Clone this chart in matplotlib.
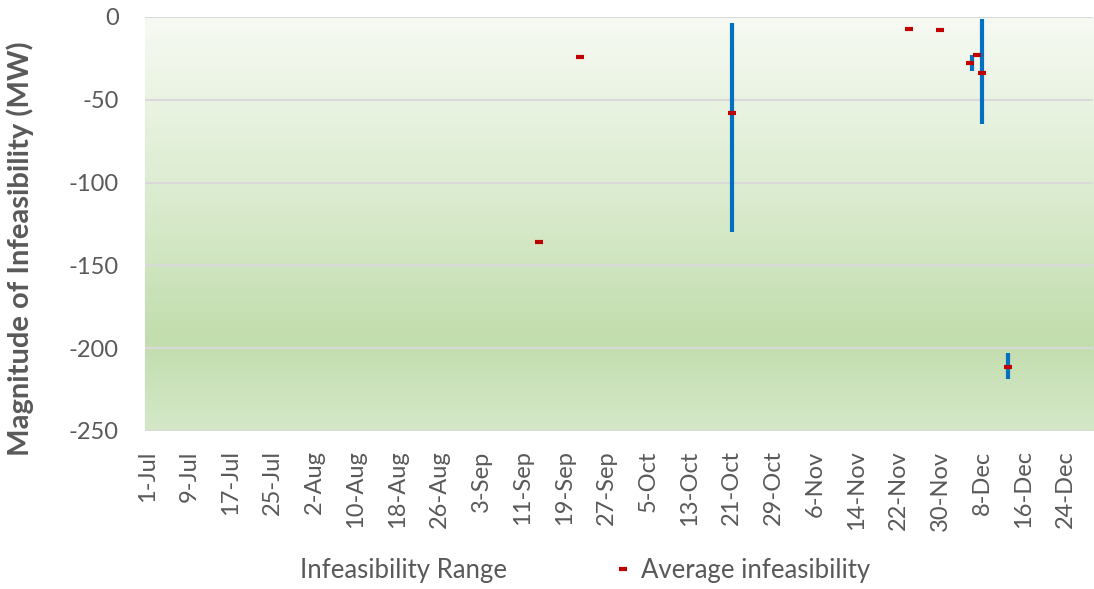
import numpy as np
import matplotlib
matplotlib.use('Agg')
import matplotlib.pyplot as plt
import matplotlib.dates as mdates
from matplotlib.colors import LinearSegmentedColormap
from matplotlib.lines import Line2D
import datetime as dt

plt.rcParams['font.family'] = ['Lato', 'DejaVu Sans']

# average infeasibility points (date, MW)
avg_dates = ['2016-09-14', '2016-09-22', '2016-10-21', '2016-11-24', '2016-11-30',
             '2016-12-05 14:00', '2016-12-06 22:00', '2016-12-08', '2016-12-13']
avg_values = [-136, -24, -58, -7, -8, -27.6, -22.8, -33.6, -211.4]

# infeasibility ranges (date, low, high)
rng_dates = ['2016-10-21', '2016-12-06 03:00', '2016-12-08', '2016-12-13']
rng_low = [-130, -32.4, -64.8, -218.6]
rng_high = [-3.4, -23, -1.2, -202.7]

tick_dates = [dt.date(2016, 7, 1) + dt.timedelta(days=8 * i) for i in range(23)]

grey = '#595959'

fig = plt.figure(figsize=(10.94, 5.89), dpi=100)
ax = fig.add_axes([0.1325, 0.2683, 0.8668, 0.7029])

x0 = mdates.date2num(dt.datetime(2016, 6, 30, 14))
x1 = x0 + 181.7

# gradient background
cmap = LinearSegmentedColormap.from_list('bg', [(0.0, '#F7FAF3'), (0.45, '#DAEBCE'),
                                                (0.78, '#C2DDAD'), (1.0, '#D4E8C8')])
grad = np.linspace(0, 1, 256).reshape(-1, 1)
ax.imshow(grad, cmap=cmap, aspect='auto', extent=[x0, x1, -250, 0],
          origin='upper', zorder=0)

for yv in [0, -50, -100, -150, -200, -250]:
    ax.axhline(yv, color='#D9D9D9', lw=1.5, zorder=1)

rx = mdates.date2num([np.datetime64(d).astype(dt.datetime) for d in rng_dates])
ax.vlines(rx, rng_low, rng_high, color='#0070C0', lw=3, zorder=2)

axx = mdates.date2num([np.datetime64(d).astype(dt.datetime) for d in avg_dates])
ax.plot(axx, avg_values, ls='none', marker='_', ms=6, mew=3, color='#C00000', zorder=3)

ax.set_xlim(x0, x1)
ax.set_ylim(-250, 0)
ax.set_xticks(mdates.date2num(tick_dates))
ax.set_xticklabels([f'{d.day}-{d.strftime("%b")}' for d in tick_dates],
                   rotation=90, fontsize=17, color=grey)
ax.set_yticks([0, -50, -100, -150, -200, -250])
ax.set_yticklabels(['0', '-50', '-100', '-150', '-200', '-250'], fontsize=17, color=grey)
ax.tick_params(axis='y', length=0, pad=19)
ax.tick_params(axis='x', length=0, pad=14)
for s in ax.spines.values():
    s.set_visible(False)

ax.set_ylabel('Magnitude of Infeasibility (MW)', fontsize=21, fontweight='bold',
              color=grey)
ax.yaxis.set_label_coords(-0.117, 0.44)

handles = [Line2D([], [], ls='none', color='none'),
           Line2D([], [], ls='none', marker='_', ms=6, mew=3, color='#C00000')]
leg = fig.legend(handles, ['Infeasibility Range', 'Average infeasibility'],
                 loc='center', bbox_to_anchor=(0.522, 0.0306), ncol=2, frameon=False,
                 fontsize=18.5, handlelength=0.8, handletextpad=0.3, columnspacing=4.1)
for t in leg.get_texts():
    t.set_color(grey)

plt.savefig('out.png', dpi=100)
